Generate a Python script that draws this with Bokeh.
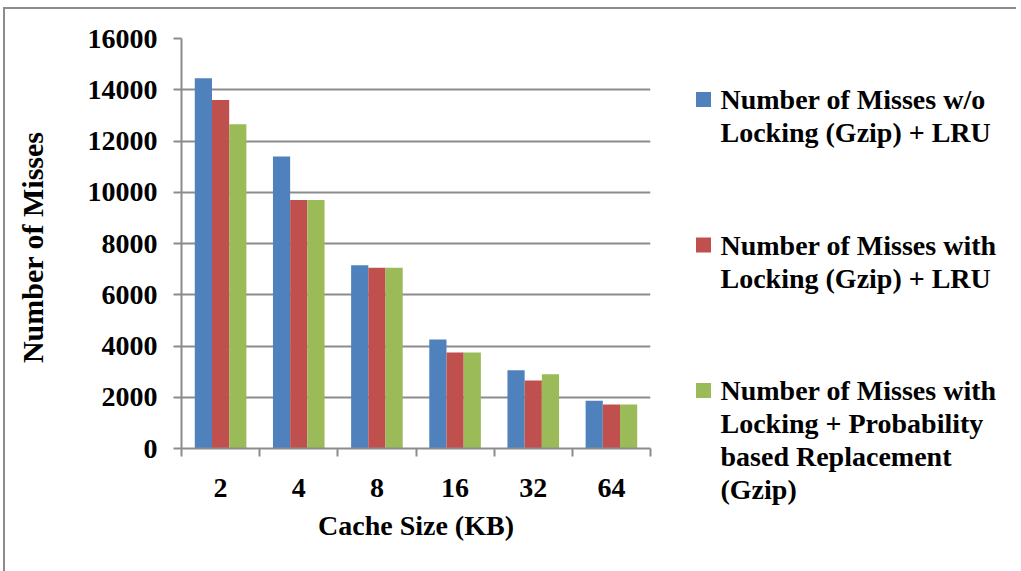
from bokeh.plotting import figure
from bokeh.layouts import row
from bokeh.models import Range1d, FixedTicker, ColumnDataSource
from bokeh.core.properties import value
from bokeh.embed import file_html
from bokeh.resources import INLINE

# Cache sizes (KB) and miss counts for each replacement scheme
cache_sizes = ["2", "4", "8", "16", "32", "64"]
misses_lru_no_lock = [14450, 11400, 7150, 4250, 3050, 1860]
misses_lru_lock = [13600, 9700, 7050, 3750, 2650, 1720]
misses_prob_lock = [12650, 9700, 7050, 3750, 2900, 1720]

series_names = [
    "Number of Misses w/o\nLocking (Gzip) + LRU",
    "Number of Misses with\nLocking (Gzip) + LRU",
    "Number of Misses with\nLocking + Probability\nbased Replacement\n(Gzip)",
]
series_colors = ["#4F81BD", "#C0504D", "#9BBB59"]
y_ticks = [0, 2000, 4000, 6000, 8000, 10000, 12000, 14000, 16000]

FONT = "Liberation Serif"
GRID = "#8c8c8c"
bar_w = 0.22

p = figure(
    output_backend="svg", toolbar_location=None,
    frame_width=469, frame_height=410,
    min_border_left=176, min_border_top=29, min_border_bottom=123, min_border_right=22,
    x_range=Range1d(0, len(cache_sizes)), y_range=Range1d(0, 16000),
    background_fill_color="white", border_fill_color="white",
)
p.frame_align = False
p.outline_line_color = None

centers = [i + 0.5 for i in range(len(cache_sizes))]
for k, vals in enumerate([misses_lru_no_lock, misses_lru_lock, misses_prob_lock]):
    off = (k - 1) * bar_w
    src = ColumnDataSource(dict(x=[c + off for c in centers], top=vals))
    p.vbar(x="x", top="top", bottom=0, width=bar_w, source=src,
           fill_color=series_colors[k], line_color=None)

# x axis: labels at group centres, tick marks at group boundaries
xa = p.xaxis[0]
xa.ticker = FixedTicker(ticks=centers, minor_ticks=list(range(len(cache_sizes) + 1)))
xa.major_label_overrides = {c: s for c, s in zip(centers, cache_sizes)}
xa.major_tick_line_color = None
xa.major_tick_out = 0
xa.minor_tick_in = 0
xa.minor_tick_out = 8
xa.minor_tick_line_color = GRID
xa.minor_tick_line_width = 2
xa.axis_line_color = GRID
xa.axis_line_width = 2
xa.major_label_standoff = 22
xa.major_label_text_font = FONT
xa.major_label_text_font_style = "bold"
xa.major_label_text_font_size = "28px"
xa.major_label_text_color = "black"
xa.axis_label = "Cache Size (KB)"
xa.axis_label_text_font = FONT
xa.axis_label_text_font_style = "bold"
xa.axis_label_text_font_size = "28px"
xa.axis_label_text_color = "black"
xa.axis_label_standoff = 10

ya = p.yaxis[0]
ya.ticker = FixedTicker(ticks=y_ticks)
ya.minor_tick_line_color = None
ya.major_tick_in = 0
ya.major_tick_out = 8
ya.major_tick_line_color = GRID
ya.major_tick_line_width = 2
ya.axis_line_color = GRID
ya.axis_line_width = 2
ya.major_label_standoff = 16
ya.major_label_text_font = FONT
ya.major_label_text_font_style = "bold"
ya.major_label_text_font_size = "28px"
ya.major_label_text_color = "black"
ya.axis_label = "Number  of Misses"
ya.axis_label_text_font = FONT
ya.axis_label_text_font_style = "bold"
ya.axis_label_text_font_size = "30px"
ya.axis_label_text_color = "black"
ya.axis_label_standoff = 36

p.xgrid.grid_line_color = None
p.ygrid.ticker = FixedTicker(ticks=y_ticks)
p.ygrid.grid_line_color = GRID
p.ygrid.grid_line_width = 2

# Legend panel: data units equal pixels measured down from the panel's top edge
LW, LH = 344, 562
leg = figure(
    output_backend="svg", toolbar_location=None,
    frame_width=LW, frame_height=LH, min_border=0,
    x_range=Range1d(0, LW), y_range=Range1d(LH, 0),
    background_fill_color="white", border_fill_color="white",
)
leg.frame_align = False
leg.axis.visible = False
leg.grid.visible = False
leg.outline_line_color = None

first_mid = 90        # vertical centre of each item's first line
item_step = 145.5
line_step = 33
sq_x, sq_y, txt_x, txt_y, lines = [], [], [], [], []
for k, name in enumerate(series_names):
    mid = first_mid + k * item_step
    sq_x.append(31)
    sq_y.append(mid)
    for j, line in enumerate(name.split("\n")):
        txt_x.append(48)
        txt_y.append(mid + j * line_step)
        lines.append(line)

leg.rect(x=sq_x, y=sq_y, width=15, height=15, fill_color=series_colors, line_color=None)
leg.text(x=txt_x, y=txt_y, text=lines, text_font=value(FONT), text_font_style="bold",
         text_font_size="28px", text_baseline="middle", text_color="black")

layout = row(
    p, leg,
    margin=(7, 0, 0, 3),
    styles={"border-top": "2px solid #8c8c8c", "border-left": "2px solid #8c8c8c"},
)

open("out.html", "w").write(file_html(layout, INLINE))
